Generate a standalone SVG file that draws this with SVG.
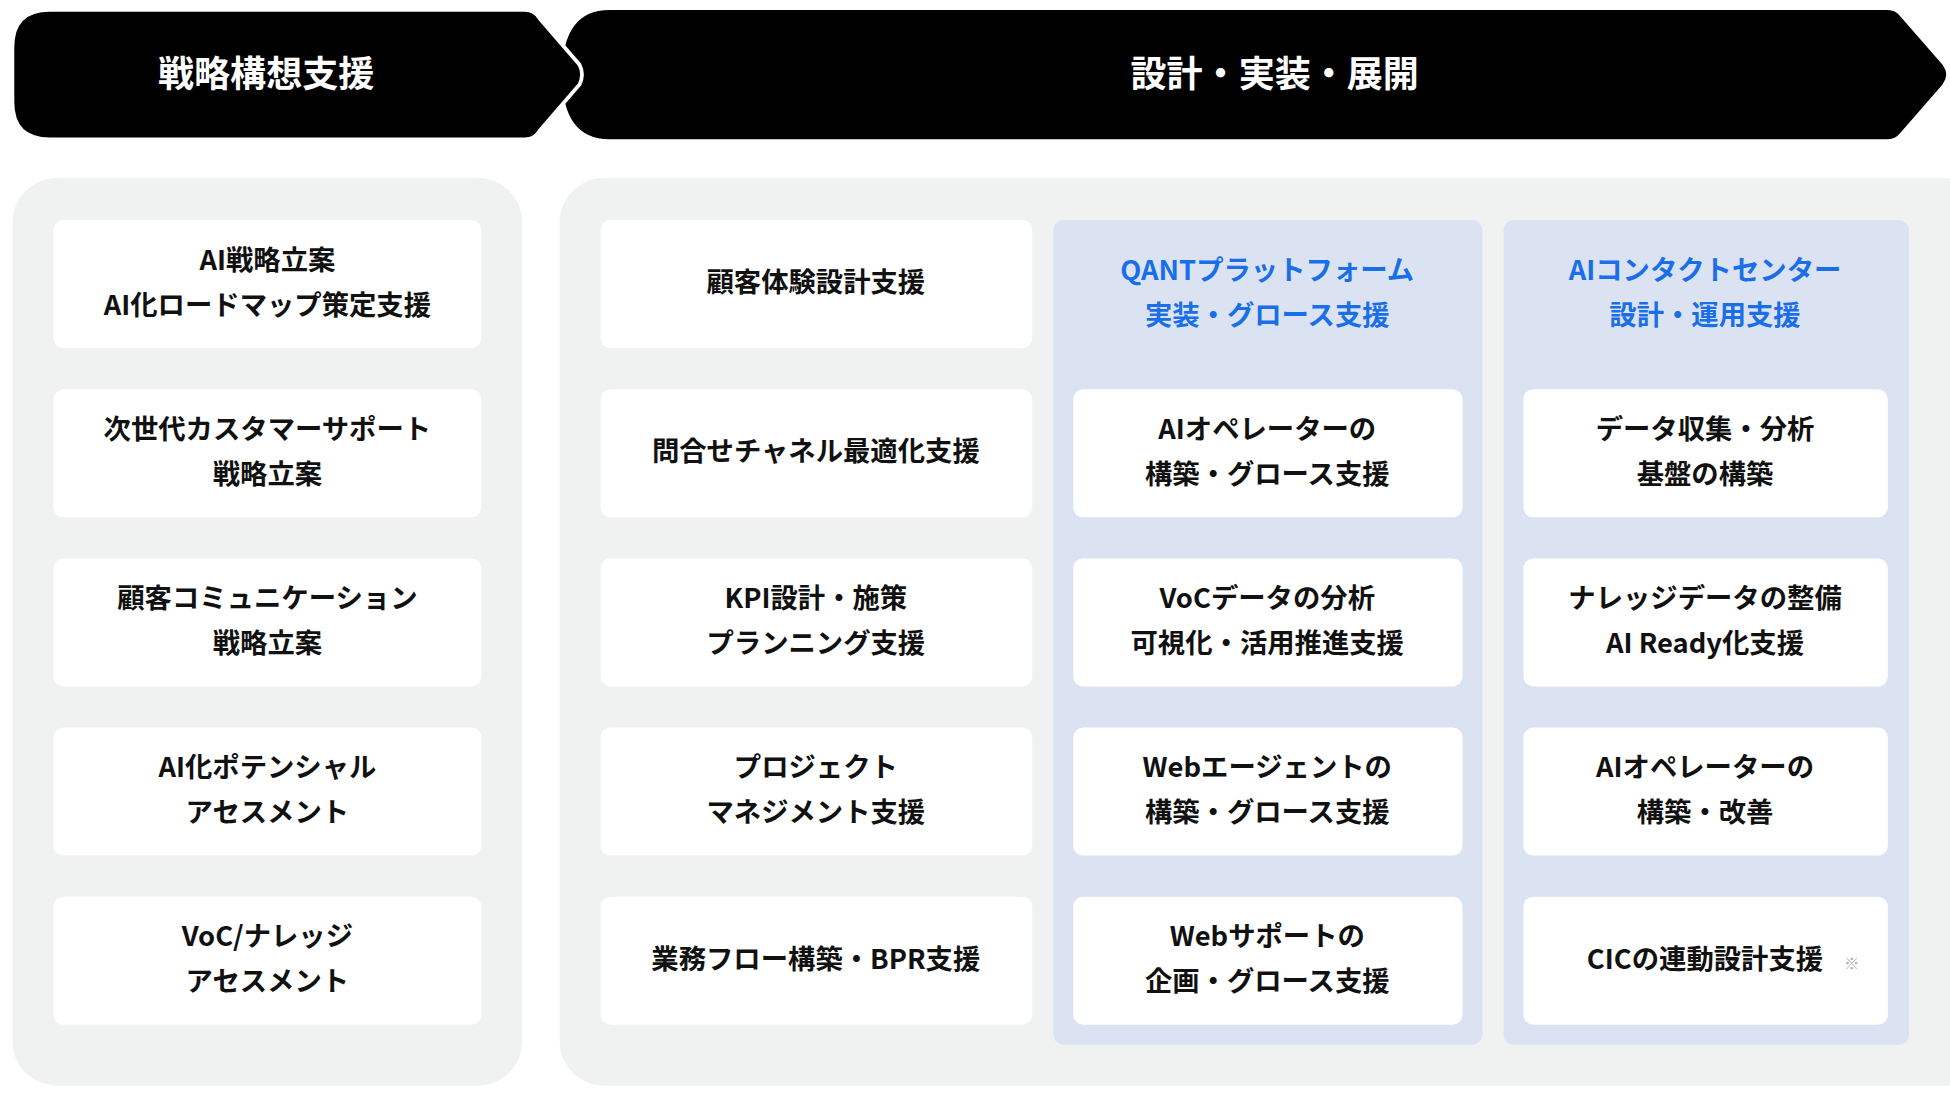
<svg xmlns="http://www.w3.org/2000/svg" width="1950" height="1094" viewBox="0 0 1950 1094">
<style>
.t{font-family:"Noto Sans CJK JP","Noto Sans",sans-serif;font-weight:700;font-size:22px;fill:#111;text-anchor:middle}
.h{font-family:"Noto Sans CJK JP","Noto Sans",sans-serif;font-weight:700;font-size:29px;fill:#fff;text-anchor:middle}
.b{fill:#1a6ee8}
.box{fill:#fff}
.panel{fill:#f0f1f1}
.blue{fill:#dbe3f2}
</style>
<rect width="1950" height="1094" fill="#fff"/>
<g transform="scale(1.24362)">
<g id="header-right">
<path d="M490 8 H1518 Q1524 8 1528 13 L1562 52 Q1568 60 1562 68 L1528 107 Q1524 112 1518 112 H490 Q452 112 452 60 Q452 8 490 8 Z" fill="#000"/>
<text class="h" x="1025" y="70">設計・実装・展開</text>
</g>
<g id="header-left">
<path d="M40 8 H422 Q430 8 434 15 L466 52 Q470 60 466 68 L434 105 Q430 112 422 112 H40 Q10 112 10 82 V38 Q10 8 40 8 Z" fill="#000" stroke="#fff" stroke-width="3"/>
<text class="h" x="214" y="70">戦略構想支援</text>
</g>
<g id="panel-left"><rect class="panel" x="10" y="143" width="410" height="730" rx="36"/></g>
<g id="panel-right"><rect class="panel" x="450" y="143" width="1150" height="730" rx="36"/></g>
<g id="col-qant"><rect class="blue" x="847" y="177" width="345" height="663" rx="8"/>
<text class="t b" x="1019" y="225">QANTプラットフォーム</text><text class="t b" x="1019" y="261">実装・グロース支援</text></g>
<g id="col-aicc"><rect class="blue" x="1209" y="177" width="326" height="663" rx="8"/>
<text class="t b" x="1371" y="225">AIコンタクトセンター</text><text class="t b" x="1371" y="261">設計・運用支援</text></g>

<g id="l1"><rect class="box" x="43" y="177" width="344" height="103" rx="8"/><text class="t" x="215" y="217">AI戦略立案</text><text class="t" x="215" y="253">AI化ロードマップ策定支援</text></g>
<g id="l2"><rect class="box" x="43" y="313" width="344" height="103" rx="8"/><text class="t" x="215" y="353">次世代カスタマーサポート</text><text class="t" x="215" y="389">戦略立案</text></g>
<g id="l3"><rect class="box" x="43" y="449" width="344" height="103" rx="8"/><text class="t" x="215" y="489">顧客コミュニケーション</text><text class="t" x="215" y="525">戦略立案</text></g>
<g id="l4"><rect class="box" x="43" y="585" width="344" height="103" rx="8"/><text class="t" x="215" y="625">AI化ポテンシャル</text><text class="t" x="215" y="661">アセスメント</text></g>
<g id="l5"><rect class="box" x="43" y="721" width="344" height="103" rx="8"/><text class="t" x="215" y="761">VoC/ナレッジ</text><text class="t" x="215" y="797">アセスメント</text></g>

<g id="m1"><rect class="box" x="483" y="177" width="347" height="103" rx="8"/><text class="t" x="656" y="235">顧客体験設計支援</text></g>
<g id="m2"><rect class="box" x="483" y="313" width="347" height="103" rx="8"/><text class="t" x="656" y="371">問合せチャネル最適化支援</text></g>
<g id="m3"><rect class="box" x="483" y="449" width="347" height="103" rx="8"/><text class="t" x="656" y="489">KPI設計・施策</text><text class="t" x="656" y="525">プランニング支援</text></g>
<g id="m4"><rect class="box" x="483" y="585" width="347" height="103" rx="8"/><text class="t" x="656" y="625">プロジェクト</text><text class="t" x="656" y="661">マネジメント支援</text></g>
<g id="m5"><rect class="box" x="483" y="721" width="347" height="103" rx="8"/><text class="t" x="656" y="779">業務フロー構築・BPR支援</text></g>

<g id="q1"><rect class="box" x="863" y="313" width="313" height="103" rx="8"/><text class="t" x="1019" y="353">AIオペレーターの</text><text class="t" x="1019" y="389">構築・グロース支援</text></g>
<g id="q2"><rect class="box" x="863" y="449" width="313" height="103" rx="8"/><text class="t" x="1019" y="489">VoCデータの分析</text><text class="t" x="1019" y="525">可視化・活用推進支援</text></g>
<g id="q3"><rect class="box" x="863" y="585" width="313" height="103" rx="8"/><text class="t" x="1019" y="625">Webエージェントの</text><text class="t" x="1019" y="661">構築・グロース支援</text></g>
<g id="q4"><rect class="box" x="863" y="721" width="313" height="103" rx="8"/><text class="t" x="1019" y="761">Webサポートの</text><text class="t" x="1019" y="797">企画・グロース支援</text></g>

<g id="a1"><rect class="box" x="1225" y="313" width="293" height="103" rx="8"/><text class="t" x="1371" y="353">データ収集・分析</text><text class="t" x="1371" y="389">基盤の構築</text></g>
<g id="a2"><rect class="box" x="1225" y="449" width="293" height="103" rx="8"/><text class="t" x="1371" y="489">ナレッジデータの整備</text><text class="t" x="1371" y="525">AI Ready化支援</text></g>
<g id="a3"><rect class="box" x="1225" y="585" width="293" height="103" rx="8"/><text class="t" x="1371" y="625">AIオペレーターの</text><text class="t" x="1371" y="661">構築・改善</text></g>
<g id="a4"><rect class="box" x="1225" y="721" width="293" height="103" rx="8"/><text class="t" x="1371" y="779">CICの連動設計支援</text><text x="1489" y="779" font-family="Noto Sans CJK JP,sans-serif" font-size="12" fill="#aaa" text-anchor="middle">※</text></g>
<g id="connectors"/>
</g>
</svg>
